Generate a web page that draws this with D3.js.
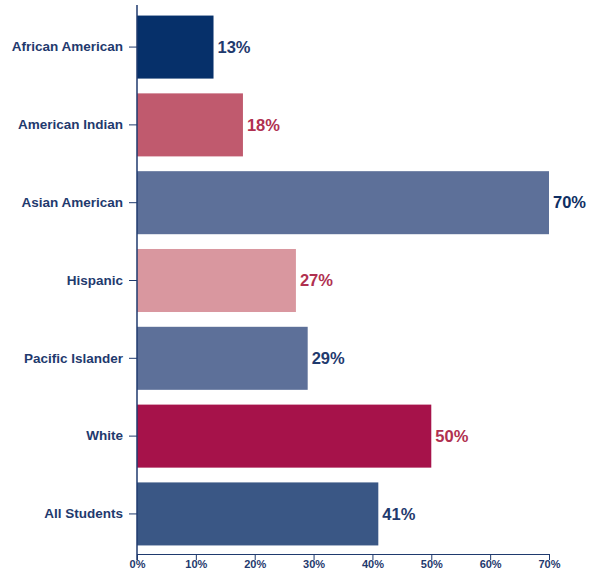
<!DOCTYPE html>
<html>
<head>
<meta charset="utf-8">
<script src="https://cdn.jsdelivr.net/npm/d3@7"></script>
<style>
  html, body { margin: 0; padding: 0; background: #fff; overflow: hidden; }
  svg { display: block; }
  svg text { font-family: "Liberation Sans", Arial, sans-serif; font-weight: bold; }
  .axis path, .axis line { stroke: #1f3a6e; }
  .axis text { fill: #1f3a6e; }
</style>
</head>
<body>
<svg id="chart" width="596" height="576"></svg>
<script>
const categories = ["African American", "American Indian", "Asian American", "Hispanic", "Pacific Islander", "White", "All Students"];
const values = [13, 18, 70, 27, 29, 50, 41];
const barColors = ["#06306a", "#c05a6e", "#5d7099", "#d9979f", "#5d7099", "#a6124a", "#3a5785"];
const labelColors = ["#1f3a6e", "#b03050", "#0f2f63", "#b03050", "#1f3a6e", "#b03050", "#1f3a6e"];
const xTicks = [0, 10, 20, 30, 40, 50, 60, 70];

const padding = { top: 7, right: 47, bottom: 22, left: 137 };
const width = 596, height = 576;
const innerWidth = width - padding.left - padding.right;
const innerHeight = height - padding.top - padding.bottom;

const data = categories.map((c, i) => ({ cat: c, value: values[i], color: barColors[i], label: labelColors[i] }));

const x = d3.scaleLinear().domain([0, 70]).range([0, innerWidth]);
const y = d3.scaleBand().domain(categories).range([0, innerHeight]).paddingInner(0.19).paddingOuter(0.11);

const svg = d3.select("#chart")
  .append("g")
  .attr("transform", `translate(${padding.left}, ${padding.top})`);

svg.selectAll(".bar")
  .data(data)
  .enter()
  .append("rect")
  .attr("class", "bar")
  .attr("x", 0)
  .attr("y", d => y(d.cat))
  .attr("width", d => x(d.value))
  .attr("height", y.bandwidth())
  .attr("fill", d => d.color);

svg.selectAll(".val")
  .data(data)
  .enter()
  .append("text")
  .attr("class", "val")
  .attr("x", d => x(d.value) + 4)
  .attr("y", d => y(d.cat) + y.bandwidth() / 2)
  .attr("dy", "0.35em")
  .attr("font-size", 16.5)
  .attr("fill", d => d.label)
  .text(d => d.value + "%");

// y axis
const yAxis = d3.axisLeft(y).tickSize(8).tickPadding(6);
const gy = svg.append("g").attr("class", "axis y").call(yAxis);
gy.select(".domain").attr("d", `M0,-2V${innerHeight + 6}`).attr("stroke-width", 1.5);
gy.selectAll("text").attr("font-size", 13.5);

// x axis
const xAxis = d3.axisBottom(x).tickValues(xTicks).tickFormat(d => d + "%").tickSize(6).tickSizeOuter(0).tickPadding(0);
const gx = svg.append("g").attr("class", "axis x")
  .attr("transform", `translate(0,${innerHeight})`)
  .call(xAxis);
gx.select(".domain").attr("stroke-width", 1.2);
gx.selectAll("text").attr("font-size", 11);
</script>
</body>
</html>
